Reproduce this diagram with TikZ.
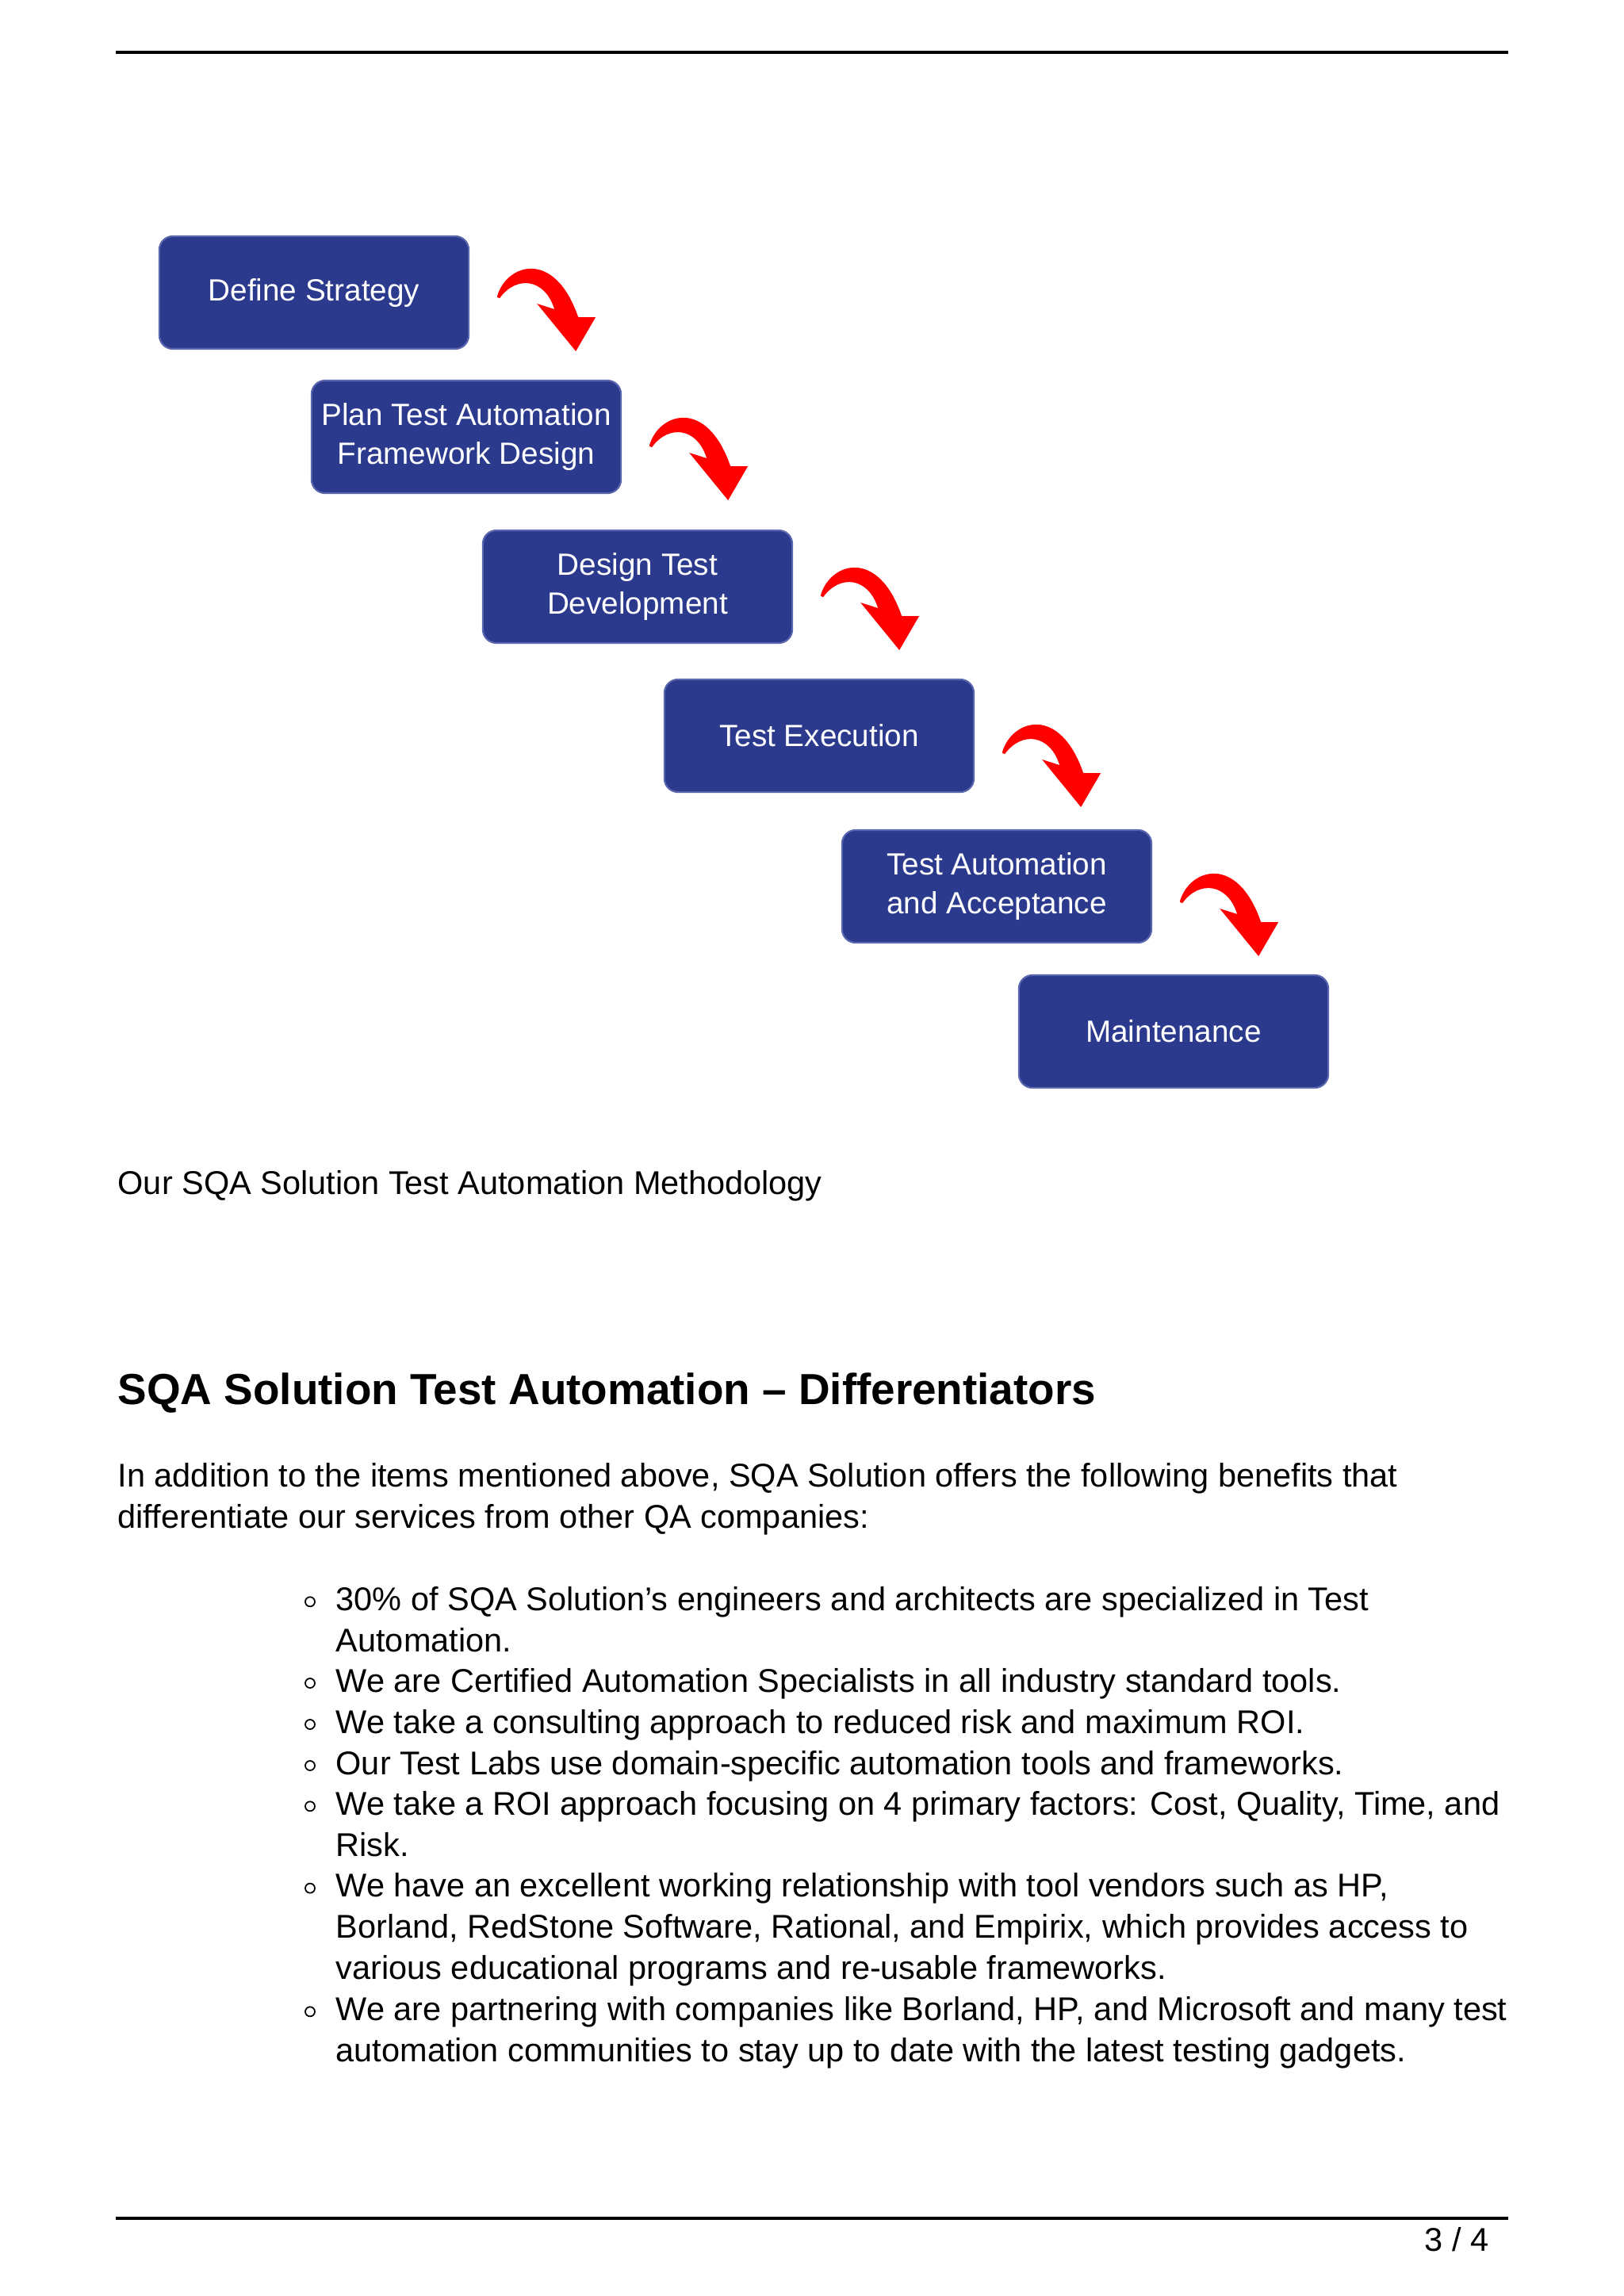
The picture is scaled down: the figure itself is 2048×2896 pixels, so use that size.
\documentclass[tikz,border=0pt]{standalone}
\usepackage{fontspec}
\setmainfont{Liberation Sans}
\definecolor{Navy}{HTML}{2C3A8E}
\definecolor{NavyEdge}{HTML}{5A66AE}
\definecolor{Swoosh}{HTML}{FF0000}

\begin{document}
\begin{tikzpicture}[x=.01cm,y=-.01cm,
  stage/.style={fill=Navy,draw=NavyEdge,line width=.6pt,rounded corners=.17cm,
    minimum width=3.9cm,minimum height=1.42cm,text=white,align=center,
    font=\fontsize{11}{14}\selectfont},
  body/.style={inner sep=0pt,anchor=base west,align=left,
    font=\fontsize{11.8}{14.7}\selectfont},
  ring/.style={draw,line width=.5pt},
  swoosh/.pic={\fill[Swoosh] (0,2) -- (0,0) .. controls (12,-40) and (72,-60) .. (102,27)
    -- (124,27) -- (99,70) -- (50,10) -- (72,17)
    .. controls (60,-22) and (24,-26) .. (3,3) -- cycle;}]
\useasboundingbox (0,0) rectangle (2048,2896);
\draw[line width=1pt] (146,66) -- (1902,66);

% methodology steps
\node[stage] (s1) at (396,369) {Define Strategy};
\node[stage] (s2) at (588,551) {Plan Test Automation\\Framework Design};
\node[stage] (s3) at (804,740) {Design Test\\Development};
\node[stage] (s4) at (1033,928) {Test Execution};
\node[stage] (s5) at (1257,1118) {Test Automation\\and Acceptance};
\node[stage] (s6) at (1480,1301) {Maintenance};
\foreach \n/\dy in {1/4,2/10,3/10,4/20,5/18}
  \path (s\n.east) ++(35,\dy) pic {swoosh};

\node[body] (cap) at (148,1506) {Our SQA Solution Test Automation Methodology};
\node[body,font=\fontsize{15.6}{19}\selectfont\bfseries] (head) at (148,1771)
  {SQA Solution Test Automation – Differentiators};
\node[body] (intro) at (148,1927) {In addition to the items mentioned above, SQA Solution offers the following benefits that\\differentiate our services from other QA companies:};

% benefits list (node base = last line)
\node[body] (i1) at (423,2083) {30\% of SQA Solution’s engineers and architects are specialized in Test\\Automation.};
\node[body] (i2) at (423,2134) {We are Certified Automation Specialists in all industry standard tools.};
\node[body] (i3) at (423,2186) {We take a consulting approach to reduced risk and maximum ROI.};
\node[body] (i4) at (423,2238) {Our Test Labs use domain-specific automation tools and frameworks.};
\node[body] (i5) at (423,2341) {We take a ROI approach focusing on 4 primary factors: Cost, Quality, Time, and\\Risk.};
\node[body] (i6) at (423,2496) {We have an excellent working relationship with tool vendors such as HP,\\Borland, RedStone Software, Rational, and Empirix, which provides access to\\various educational programs and re-usable frameworks.};
\node[body] (i7) at (423,2600) {We are partnering with companies like Borland, HP, and Microsoft and many test\\automation communities to stay up to date with the latest testing gadgets.};
\foreach \i/\k in {1/1,2/0,3/0,4/0,5/1,6/2,7/1}
  \draw[ring] (i\i.base west) ++(-32,-11-51.7*\k) circle (6);

\draw[line width=1pt] (146,2798) -- (1902,2798);
\node[body,anchor=base east] (pg) at (1878,2839) {3 / 4};
\end{tikzpicture}
\end{document}
